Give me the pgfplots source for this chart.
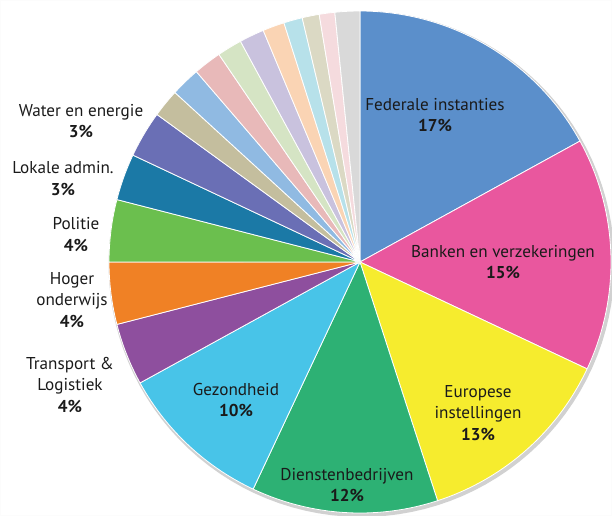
\documentclass[border=0pt]{standalone}
\usepackage{pgfplots}
\usepackage{pgfplotstable}
\pgfplotsset{compat=1.18}
\usepackage{fontspec}
\setmainfont{PT Sans}

\definecolor{pie0}{HTML}{5B8FCB}
\definecolor{pie1}{HTML}{E9579E}
\definecolor{pie2}{HTML}{F6EC2E}
\definecolor{pie3}{HTML}{2DB174}
\definecolor{pie4}{HTML}{48C4E8}
\definecolor{pie5}{HTML}{8E4F9E}
\definecolor{pie6}{HTML}{F08125}
\definecolor{pie7}{HTML}{6BBF4E}
\definecolor{pie8}{HTML}{1B79A6}
\definecolor{pie9}{HTML}{6A6FB5}
\definecolor{pie10}{HTML}{C4BE9E}
\definecolor{pie11}{HTML}{90BAE2}
\definecolor{pie12}{HTML}{E8B9B9}
\definecolor{pie13}{HTML}{D5E4C4}
\definecolor{pie14}{HTML}{C9C2DE}
\definecolor{pie15}{HTML}{FAD4B4}
\definecolor{pie16}{HTML}{B7E1EA}
\definecolor{pie17}{HTML}{DBD9C4}
\definecolor{pie18}{HTML}{F5DBDE}
\definecolor{pie19}{HTML}{D9D9D9}
\definecolor{txt}{HTML}{1A1A1A}
\definecolor{faint}{HTML}{FCFCFC}

\pgfplotstableread{
pct
17
15
13
12
10
4
4
4
3
3
1.8
1.9
1.8
1.6
1.6
1.4
1.2
1.1
1.0
1.6
}\pietable
\pgfplotstablecreatecol[create col/expr accum={\pgfmathaccuma + \thisrow{pct}}{0}]{cum}\pietable

\begin{document}
\begin{tikzpicture}
\begin{axis}[
  width=612bp, height=516bp, scale only axis,
  xmin=0, xmax=612, ymin=0, ymax=516, y dir=reverse,
  hide axis, clip=true,
]
% near-white frame so the page keeps its full size
\draw[faint, line width=1pt] (axis cs:0.5,0.5) rectangle (axis cs:611.5,515.5);
% soft shadow
\addplot[fill=black!18, draw=none, domain=0:360, samples=120] ({361.5+253*cos(x)},{264-253*sin(x)}) -- cycle;
\pgfplotsinvokeforeach{0,...,19}{
  \pgfplotstablegetelem{#1}{cum}\of\pietable
  \pgfmathsetmacro\endang{90-3.6*\pgfplotsretval}
  \pgfplotstablegetelem{#1}{pct}\of\pietable
  \pgfmathsetmacro\startang{\endang+3.6*\pgfplotsretval}
  \edef\temp{\noexpand\addplot[fill=pie#1, draw=white, line width=0.8pt, line join=round, domain=\endang:\startang, samples=60] ({360+251*cos(x)},{262-251*sin(x)}) -- (axis cs:360,262) -- cycle;}
  \temp
}
\begin{scope}[every node/.style={align=center, text=txt, font=\fontsize{17.2}{21.5}\selectfont}]
\node at (axis cs:435,115) {Federale instanties\\\textbf{17\%}};
\node at (axis cs:503,262) {Banken en verzekeringen\\\textbf{15\%}};
\node at (axis cs:478,413) {Europese\\instellingen\\\textbf{13\%}};
\node at (axis cs:347,485) {Dienstenbedrijven\\\textbf{12\%}};
\node at (axis cs:236,400) {Gezondheid\\\textbf{10\%}};
\node at (axis cs:81,121) {Water en energie\\\textbf{3\%}};
\node at (axis cs:63,178.5) {Lokale admin.\\\textbf{3\%}};
\node at (axis cs:76,234.5) {Politie\\\textbf{4\%}};
\node at (axis cs:72,300) {Hoger\\onderwijs\\\textbf{4\%}};
\node at (axis cs:70,385) {Transport \&\\Logistiek\\\textbf{4\%}};
\end{scope}
\end{axis}
\end{tikzpicture}
\end{document}
